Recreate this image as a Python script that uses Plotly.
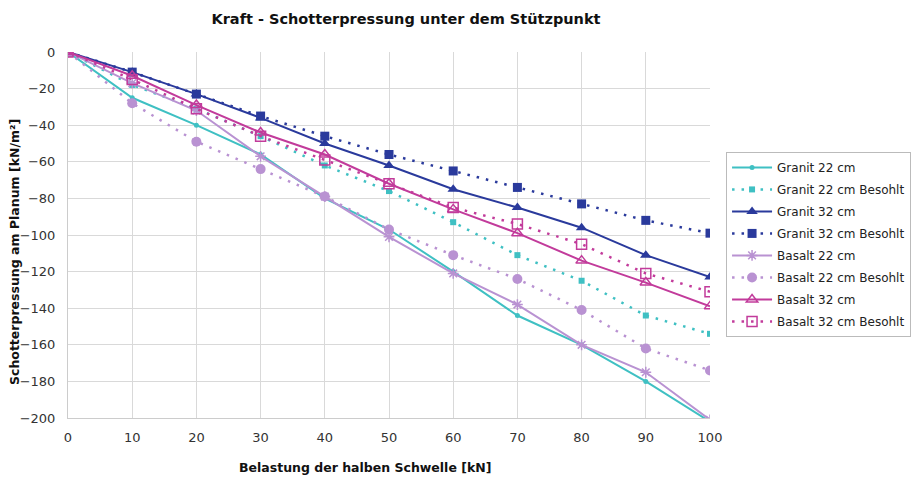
import plotly.graph_objects as go

x_kn = [0, 10, 20, 30, 40, 50, 60, 70, 80, 90, 100]

granit_22 = [0, -25, -40, -56, -80, -97, -120, -144, -160, -180, -202]
granit_22_besohlt = [0, -18, -31, -46, -62, -76, -93, -111, -125, -144, -154]
granit_32 = [0, -11, -23, -36, -50, -62, -75, -85, -96, -111, -123]
granit_32_besohlt = [0, -11, -23, -35, -46, -56, -65, -74, -83, -92, -99]
basalt_22 = [0, -17, -32, -57, -79, -101, -121, -138, -160, -175, -201]
basalt_22_besohlt = [0, -28, -49, -64, -79, -97, -111, -124, -141, -162, -174]
basalt_32 = [0, -13, -29, -44, -56, -72, -86, -99, -114, -126, -139]
basalt_32_besohlt = [0, -15, -31, -46, -59, -72, -85, -94, -105, -121, -131]

TEAL = "#3fc0c3"
BLUE = "#2a3a9c"
LAV = "#b992d2"
MAG = "#c23b9b"

FONT = "DejaVu Sans, Liberation Sans, Arial, sans-serif"

series = [
    ("Granit 22 cm", granit_22, TEAL, "solid", dict(symbol="circle", size=5)),
    ("Granit 22 cm Besohlt", granit_22_besohlt, TEAL, "dot", dict(symbol="square", size=6)),
    ("Granit 32 cm", granit_32, BLUE, "solid", dict(symbol="triangle-up", size=10)),
    ("Granit 32 cm Besohlt", granit_32_besohlt, BLUE, "dot", dict(symbol="square", size=9)),
    ("Basalt 22 cm", basalt_22, LAV, "solid", dict(symbol="asterisk-open", size=9, line=dict(width=1.5, color=LAV))),
    ("Basalt 22 cm Besohlt", basalt_22_besohlt, LAV, "dot", dict(symbol="circle", size=10)),
    ("Basalt 32 cm", basalt_32, MAG, "solid", dict(symbol="triangle-up-open", size=10, line=dict(width=1.5, color=MAG))),
    ("Basalt 32 cm Besohlt", basalt_32_besohlt, MAG, "dot", dict(symbol="square-open", size=10, line=dict(width=1.5, color=MAG))),
]

fig = go.Figure()
for i, (name, vals, col, dash, mk) in enumerate(series):
    mk = dict(mk)
    mk["color"] = col
    fig.add_trace(go.Scatter(
        x=x_kn, y=vals, name=name, mode="lines+markers", legendgroup=f"g{i}",
        line=dict(color=col, width=2.5 if dash == "dot" else 2,
                  dash="2.5px,7px" if dash == "dot" else "solid"),
        marker=mk,
    ))

fig.update_layout(
    width=916, height=477,
    margin=dict(l=68, r=206, t=52, b=59, autoexpand=False),
    paper_bgcolor="white", plot_bgcolor="white",
    font=dict(family=FONT, size=13, color="#333"),
    title=dict(text="<b>Kraft - Schotterpressung unter dem Stützpunkt</b>",
               x=406 / 916, xanchor="center", y=1 - 19 / 477, yanchor="middle",
               font=dict(size=14.5, color="#111")),
    xaxis=dict(range=[0, 100], dtick=10, tick0=0, showgrid=True, gridcolor="#d9d9d9",
               showline=True, linecolor="#cccccc", zeroline=False, ticks="",
               ticklabelstandoff=7, automargin=False, tickfont=dict(size=13)),
    yaxis=dict(range=[-200, 0], dtick=20, showgrid=True, gridcolor="#d9d9d9",
               showline=True, linecolor="#cccccc", zeroline=False, ticks="", mirror=False,
               ticklabelstandoff=9, automargin=False, tickfont=dict(size=13)),
    legend=dict(x=1.025, xanchor="left", y=0.727, yanchor="top",
                bordercolor="#bbbbbb", borderwidth=1, bgcolor="white",
                font=dict(size=12, color="#222"), tracegroupgap=3, itemwidth=40),
    annotations=[
        dict(text="<b>Belastung der halben Schwelle [kN]</b>", xref="paper", yref="paper",
             x=(365 - 68) / 642, y=(418 - 467) / 366, xanchor="center", yanchor="middle",
             showarrow=False, font=dict(size=12.5, color="#111")),
        dict(text="<b>Schotterpressung am Planum [kN/m²]</b>", xref="paper", yref="paper",
             x=(15 - 68) / 642, y=(418 - 252) / 366, xanchor="center", yanchor="middle",
             textangle=-90, showarrow=False, font=dict(size=12.5, color="#111")),
    ],
)

fig.write_html("out.html")
